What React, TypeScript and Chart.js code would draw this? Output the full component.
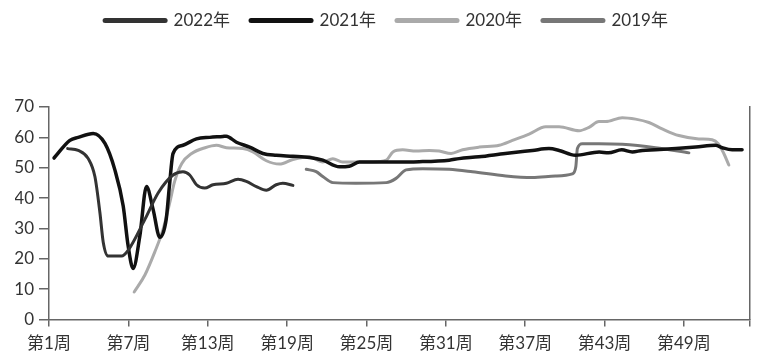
import React, { useEffect, useRef } from "react";
import { Chart, registerables } from "chart.js";

Chart.register(...registerables);

const seriesNames = ["2022年", "2021年", "2020年", "2019年"];
const seriesColors = ["#333333", "#111111", "#aaaaaa", "#777777"];

const xTickWeeks = [1, 7, 13, 19, 25, 31, 37, 43, 49];
const xAxisMin = 1;
const xAxisMax = 54;

const weeks2022 = [2.41, 3.21, 3.97, 4.47, 4.85, 5.1, 5.48, 6.49, 6.98, 8.25, 9.25, 10.38, 11.13, 11.64, 12.15, 12.77, 13.4, 14.41, 15.29, 15.92, 16.68, 17.43, 18.18, 18.68, 19.44];
const values2022 = [56.3, 55.7, 53, 47.1, 35.2, 25.5, 20.9, 20.9, 22.8, 33, 41.7, 47.6, 48.7, 47.6, 44.4, 43.3, 44.4, 44.9, 46.2, 45.5, 43.8, 42.6, 44.4, 44.9, 44.2];

const weeks2021 = [1.38, 2.58, 3.21, 4.34, 5.23, 5.98, 6.61, 6.98, 7.36, 7.87, 8.37, 8.87, 9.38, 9.86, 10.1, 10.38, 11.13, 12.15, 13.15, 14.15, 14.4, 15.17, 16.17, 17.17, 18.18, 19.44, 20.7, 21.7, 22.96, 23.7, 24.47, 25.5, 26.7, 29, 31.26, 32, 33.5, 35.5, 37.55, 38.8, 39.57, 40.8, 42.6, 43.3, 44.3, 45.1, 45.85, 46.86, 48.4, 49.9, 51.4, 51.9, 52.65, 53.4];
const values2021 = [53.2, 59, 60, 61.3, 58, 49.3, 37.4, 24.4, 16.8, 27.6, 43.8, 36.3, 27.1, 33, 43.8, 54.7, 57.4, 59.5, 60, 60.3, 60.4, 58.4, 56.8, 54.7, 54.1, 53.8, 53.4, 52.5, 50.3, 50.5, 51.9, 51.9, 51.9, 52, 52.5, 53, 53.6, 54.7, 55.7, 56.3, 55.7, 54.1, 55.2, 54.9, 55.9, 55.2, 55.7, 55.9, 56.3, 56.8, 57.4, 56.6, 55.9, 55.9];

const weeks2020 = [7.44, 8.25, 9, 9.63, 10.13, 10.5, 11.04, 11.79, 12.8, 13.66, 14.41, 15.66, 16.42, 17.43, 18.43, 19.44, 20.7, 21.7, 22.46, 23.2, 24.2, 25.5, 26.5, 27, 27.74, 28.75, 29.75, 30.5, 31.4, 32.27, 33.53, 35.04, 36.04, 37.3, 38.56, 39.57, 41.08, 41.83, 42.58, 43.09, 44.34, 45.35, 46.36, 47.36, 48.62, 50.13, 51.14, 51.6, 52.02, 52.4];
const values2020 = [9.1, 14.7, 22.3, 29.8, 38.5, 45.5, 51.4, 54.7, 56.6, 57.4, 56.6, 56.3, 55.2, 52.3, 51.2, 52.7, 53.6, 51.9, 53, 51.9, 51.9, 51.9, 52.5, 55.2, 55.9, 55.5, 55.7, 55.5, 54.7, 55.9, 56.8, 57.4, 59, 61.1, 63.5, 63.5, 62.2, 63.3, 65.2, 65.2, 66.5, 66, 64.9, 62.8, 60.6, 59.5, 59.2, 57.9, 54.7, 50.9];

const weeks2019 = [20.45, 21.2, 21.7, 22.46, 24.2, 26.5, 27.24, 28, 29.25, 31.26, 33.02, 35.54, 37.55, 39.3, 40.57, 40.83, 40.95, 41.33, 42.58, 44.34, 46.86, 49.38];
const values2019 = [49.5, 48.7, 47.1, 45.1, 44.9, 45.1, 46.5, 49.3, 49.7, 49.5, 48.7, 47.3, 46.8, 47.3, 48, 50.3, 56.3, 57.9, 57.9, 57.7, 56.6, 54.9];

const allWeeks = [weeks2022, weeks2021, weeks2020, weeks2019];
const allValues = [values2022, values2021, values2020, values2019];

const FONT = "Lato, 'Noto Sans CJK SC', sans-serif";
const AXIS = "#666666";

const legendMargin = {
  id: "legendMargin",
  beforeInit(chart: any) {
    const orig = chart.legend.fit;
    chart.legend.fit = function () {
      orig.bind(chart.legend)();
      this.height += 68;
    };
  },
};

export default function App() {
  const ref = useRef<HTMLCanvasElement | null>(null);
  useEffect(() => {
    if (!ref.current) return;
    const datasets = seriesNames.map((name, i) => ({
      label: name,
      data: allWeeks[i].map((w, j) => ({ x: w, y: allValues[i][j] })),
      borderColor: seriesColors[i],
      backgroundColor: seriesColors[i],
      borderWidth: i === 1 ? 3.5 : 3,
      borderCapStyle: "round" as const,
      borderJoinStyle: "round" as const,
      pointRadius: 0,
      cubicInterpolationMode: "monotone" as const,
      fill: false,
    }));
    const chart = new Chart(ref.current, {
      type: "line",
      data: { datasets },
      plugins: [legendMargin],
      options: {
        animation: false,
        responsive: true,
        maintainAspectRatio: false,
        layout: { padding: { left: 15, right: 2, top: -9, bottom: 1 } },
        plugins: {
          tooltip: { enabled: false },
          legend: {
            position: "top",
            labels: {
              usePointStyle: true,
              pointStyleWidth: 60,
              padding: 21,
              color: "#333333",
              font: { family: FONT, size: 17 },
              generateLabels: (chart: any) =>
                chart.data.datasets.map((ds: any, i: number) => ({
                  text: ds.label,
                  fillStyle: ds.borderColor,
                  strokeStyle: ds.borderColor,
                  lineWidth: 5,
                  lineCap: "round",
                  pointStyle: "line",
                  fontColor: "#333333",
                  hidden: false,
                  datasetIndex: i,
                })),
            },
          },
        },
        scales: {
          x: {
            type: "linear",
            min: xAxisMin,
            max: xAxisMax,
            afterBuildTicks: (axis: any) => {
              axis.ticks = [...xTickWeeks, xAxisMax].map((v) => ({ value: v }));
            },
            ticks: {
              autoSkip: false,
              maxRotation: 0,
              padding: 7,
              color: "#333333",
              font: { family: FONT, size: 17 },
              callback: (v: any) => (xTickWeeks.includes(v) ? `第${v}周` : ""),
            },
            grid: { display: true, drawOnChartArea: false, drawTicks: true, tickLength: 7, color: AXIS, lineWidth: 1.5 },
            border: { display: true, color: AXIS, width: 1.5 },
          },
          y: {
            min: 0,
            max: 70,
            afterFit: (s: any) => {
              s.width = 34;
            },
            ticks: {
              stepSize: 10,
              padding: 5,
              color: "#333333",
              font: { family: FONT, size: 17 },
            },
            grid: { display: true, drawOnChartArea: false, drawTicks: true, tickLength: 10, color: AXIS, lineWidth: 1.5 },
            border: { display: true, color: AXIS, width: 1.5 },
          },
          y2: {
            position: "right",
            min: 0,
            max: 70,
            ticks: { display: false },
            grid: { display: false },
            border: { display: true, color: AXIS, width: 1.5 },
          },
        },
      },
    });
    return () => chart.destroy();
  }, []);
  return (
    <div style={{ position: "fixed", left: 0, top: 0, width: 760, height: 362 }}>
      <canvas ref={ref} />
    </div>
  );
}
